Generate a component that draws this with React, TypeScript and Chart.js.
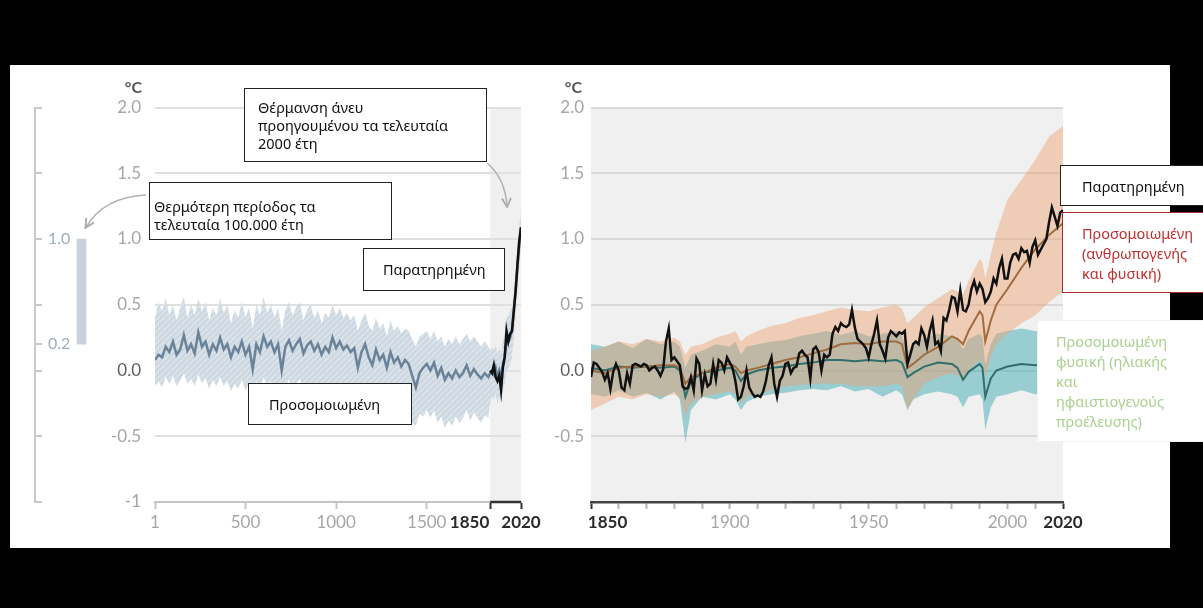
import React, { useEffect, useRef } from 'react';
import { Chart, registerables } from 'chart.js';

Chart.register(...registerables);

// ================= DATA =================
// Left panel – reconstructed / simulated temperature, year 1 .. 1840 every 20 years
const PALEO_STEP = 20;
const paleoMean = [
  0.08, 0.12, 0.10, 0.18, 0.14, 0.22, 0.12, 0.16, 0.27, 0.15,
  0.20, 0.13, 0.29, 0.18, 0.22, 0.12, 0.20, 0.15, 0.25, 0.16,
  0.20, 0.10, 0.18, 0.14, 0.22, 0.12, 0.18, 0.01, 0.20, 0.14,
  0.26, 0.18, 0.22, 0.14, 0.20, 0.00, 0.18, 0.23, 0.15, 0.20,
  0.24, 0.13, 0.19, 0.22, 0.15, 0.20, 0.12, 0.18, 0.14, 0.25,
  0.17, 0.22, 0.16, 0.19, 0.14, 0.17, 0.02, 0.14, 0.20, 0.10,
  0.04, 0.16, 0.08, 0.12, 0.02, 0.14, 0.06, 0.10, 0.03, 0.08,
  0.05, -0.04, -0.13, -0.02, 0.02, 0.05, 0.00, 0.06, -0.04, 0.02,
  -0.07, -0.02, -0.06, 0.00, -0.05, -0.02, 0.04, -0.04, 0.01, -0.03,
  -0.06, -0.02, -0.05,
];
const paleoUpper = [
  0.40, 0.52, 0.45, 0.55, 0.42, 0.50, 0.38, 0.48, 0.56, 0.40,
  0.50, 0.42, 0.55, 0.45, 0.52, 0.38, 0.48, 0.42, 0.55, 0.44,
  0.50, 0.36, 0.46, 0.40, 0.52, 0.40, 0.48, 0.32, 0.50, 0.42,
  0.56, 0.44, 0.50, 0.40, 0.48, 0.30, 0.46, 0.52, 0.42, 0.48,
  0.52, 0.38, 0.46, 0.50, 0.40, 0.46, 0.36, 0.44, 0.40, 0.50,
  0.42, 0.48, 0.40, 0.44, 0.38, 0.42, 0.30, 0.38, 0.44, 0.34,
  0.30, 0.40, 0.32, 0.36, 0.26, 0.38, 0.30, 0.34, 0.28, 0.32,
  0.30, 0.24, 0.18, 0.26, 0.28, 0.30, 0.24, 0.30, 0.22, 0.26,
  0.18, 0.24, 0.20, 0.26, 0.20, 0.24, 0.28, 0.22, 0.26, 0.22,
  0.18, 0.22, 0.18,
];
const paleoLower = [
  -0.12, -0.08, -0.13, -0.05, -0.10, -0.04, -0.12, -0.08, -0.02, -0.10,
  -0.06, -0.12, -0.03, -0.10, -0.06, -0.14, -0.07, -0.12, -0.05, -0.12,
  -0.08, -0.16, -0.10, -0.14, -0.07, -0.15, -0.10, -0.22, -0.08, -0.14,
  -0.05, -0.12, -0.08, -0.16, -0.10, -0.24, -0.12, -0.07, -0.15, -0.10,
  -0.06, -0.17, -0.12, -0.09, -0.16, -0.12, -0.20, -0.14, -0.18, -0.10,
  -0.16, -0.12, -0.18, -0.14, -0.20, -0.17, -0.30, -0.20, -0.15, -0.25,
  -0.30, -0.20, -0.28, -0.22, -0.33, -0.22, -0.30, -0.25, -0.32, -0.28,
  -0.30, -0.40, -0.42, -0.33, -0.35, -0.30, -0.36, -0.30, -0.40, -0.35,
  -0.44, -0.38, -0.42, -0.35, -0.40, -0.36, -0.30, -0.38, -0.32, -0.36,
  -0.40, -0.34, -0.36,
];

// Left panel – 1850..2020 continuation (every 10 years)
const recentYears = [1850, 1860, 1870, 1880, 1890, 1900, 1910, 1920, 1930, 1940, 1950, 1960, 1970, 1980, 1990, 2000, 2010, 2020];
const recentMean = [-0.02, 0.0, -0.03, 0.02, -0.06, 0.0, -0.05, 0.05, 0.1, 0.22, 0.22, 0.25, 0.3, 0.45, 0.6, 0.78, 0.95, 1.08];
const recentUpper = [0.15, 0.18, 0.15, 0.2, 0.12, 0.18, 0.12, 0.22, 0.28, 0.4, 0.42, 0.45, 0.48, 0.6, 0.75, 0.95, 1.1, 1.2];
const recentLower = [-0.25, -0.2, -0.22, -0.18, -0.25, -0.2, -0.25, -0.15, -0.1, 0.0, 0.02, 0.05, 0.1, 0.25, 0.4, 0.6, 0.8, 0.95];
const recentObserved = [0.0, -0.02, 0.04, -0.05, -0.08, -0.04, -0.15, 0.02, 0.1, 0.3, 0.22, 0.28, 0.3, 0.45, 0.6, 0.8, 0.98, 1.09];

// Observed annual temperature, 1850..2020
const OBS_START = 1850;
const observed = [
  -0.05, 0.06, 0.05, 0.02, -0.01, -0.07, -0.02, -0.14, -0.01, 0.05,
  0.00, -0.13, -0.15, -0.02, -0.10, 0.04, 0.05, 0.04, 0.03, 0.05,
  0.04, 0.00, 0.02, 0.03, 0.00, -0.04, 0.01, 0.22, 0.32, 0.08,
  0.10, 0.07, 0.04, -0.12, -0.14, -0.13, -0.05, -0.15, 0.09, 0.05,
  -0.15, -0.03, -0.12, -0.10, 0.05, -0.07, 0.08, 0.06, 0.00, 0.10,
  0.06, 0.02, -0.08, -0.22, -0.20, -0.12, 0.00, -0.13, -0.17, -0.20,
  -0.19, -0.20, -0.16, -0.08, 0.04, 0.10, -0.10, -0.20, -0.08, -0.04,
  0.05, 0.06, -0.02, 0.02, 0.03, 0.13, 0.15, 0.12, 0.10, -0.06,
  0.16, 0.18, 0.14, 0.00, 0.12, 0.10, 0.12, 0.28, 0.33, 0.30,
  0.36, 0.34, 0.33, 0.35, 0.46, 0.33, 0.24, 0.22, 0.20, 0.17,
  0.10, 0.20, 0.28, 0.38, 0.20, 0.15, 0.09, 0.25, 0.30, 0.28,
  0.26, 0.29, 0.28, 0.30, 0.05, 0.12, 0.20, 0.22, 0.20, 0.32,
  0.27, 0.18, 0.30, 0.38, 0.20, 0.22, 0.15, 0.40, 0.38, 0.46,
  0.56, 0.55, 0.45, 0.61, 0.46, 0.45, 0.50, 0.62, 0.68, 0.60,
  0.66, 0.62, 0.52, 0.55, 0.60, 0.70, 0.66, 0.78, 0.85, 0.70,
  0.70, 0.82, 0.88, 0.89, 0.85, 0.93, 0.90, 0.91, 0.82, 0.94,
  0.99, 0.88, 0.92, 0.96, 1.00, 1.13, 1.24, 1.17, 1.10, 1.20,
  1.22,
];

// Right panel – simulations
const simYears = [
  1850, 1855, 1860, 1865, 1870, 1875, 1880, 1882, 1884, 1886,
  1890, 1895, 1900, 1902, 1904, 1906, 1910, 1915, 1920, 1925,
  1930, 1935, 1940, 1945, 1950, 1955, 1960, 1962, 1964, 1966,
  1970, 1975, 1980, 1982, 1984, 1986, 1990, 1991, 1992, 1994,
  1996, 2000, 2005, 2010, 2015, 2020,
];
const simHumanNatural = [
  0.0, -0.02, 0.02, 0.03, 0.03, 0.04, 0.04, 0.02, -0.1, -0.05,
  -0.02, 0.02, 0.05, 0.03, -0.02, 0.0, 0.02, 0.05, 0.08, 0.1,
  0.13, 0.16, 0.2, 0.21, 0.2, 0.22, 0.22, 0.2, 0.02, 0.05,
  0.12, 0.18, 0.26, 0.24, 0.2, 0.3, 0.45, 0.42, 0.22, 0.38,
  0.5, 0.62, 0.78, 0.92, 1.03, 1.12,
];
const simHumanNaturalUpper = [
  0.15, 0.18, 0.22, 0.2, 0.24, 0.22, 0.25, 0.22, 0.12, 0.18,
  0.2, 0.25, 0.28, 0.3, 0.22, 0.26, 0.3, 0.34, 0.36, 0.4,
  0.42, 0.45, 0.48, 0.46, 0.45, 0.48, 0.5, 0.47, 0.36, 0.4,
  0.48, 0.55, 0.62, 0.6, 0.58, 0.68, 0.85, 0.82, 0.7, 0.88,
  1.05, 1.3, 1.45, 1.6, 1.78, 1.86,
];
const simHumanNaturalLower = [
  -0.3, -0.25, -0.2, -0.22, -0.18, -0.2, -0.18, -0.2, -0.35, -0.25,
  -0.2, -0.18, -0.16, -0.18, -0.25, -0.2, -0.18, -0.15, -0.12, -0.11,
  -0.1, -0.1, -0.1, -0.12, -0.12, -0.12, -0.1, -0.12, -0.3, -0.22,
  -0.1, -0.05, -0.02, -0.04, -0.08, 0.0, 0.08, 0.05, -0.05, 0.1,
  0.2, 0.28, 0.36, 0.42, 0.52, 0.6,
];
const simNatural = [
  0.02, 0.0, 0.03, 0.02, 0.03, 0.02, 0.03, 0.0, -0.2, -0.08,
  -0.02, 0.0, 0.02, 0.0, -0.08, -0.03, 0.0, 0.02, 0.03, 0.05,
  0.06, 0.08, 0.08, 0.07, 0.08, 0.07, 0.08, 0.06, -0.05, -0.02,
  0.03, 0.06, 0.05, 0.02, -0.07, -0.01, 0.05, 0.02, -0.2, -0.06,
  0.0, 0.03, 0.05, 0.04, 0.05, 0.04,
];
const simNaturalUpper = [
  0.2, 0.18, 0.22, 0.17, 0.24, 0.2, 0.22, 0.18, 0.02, 0.12,
  0.15, 0.2, 0.18, 0.22, 0.12, 0.18, 0.2, 0.22, 0.23, 0.26,
  0.28, 0.3, 0.27, 0.3, 0.26, 0.28, 0.3, 0.26, 0.14, 0.2,
  0.25, 0.28, 0.26, 0.24, 0.16, 0.24, 0.28, 0.25, 0.05, 0.2,
  0.28, 0.3, 0.32, 0.3, 0.3, 0.28,
];
const simNaturalLower = [
  -0.18, -0.2, -0.15, -0.2, -0.17, -0.22, -0.16, -0.22, -0.55, -0.3,
  -0.2, -0.22, -0.18, -0.22, -0.3, -0.24, -0.2, -0.18, -0.17, -0.15,
  -0.14, -0.15, -0.12, -0.16, -0.14, -0.2, -0.15, -0.18, -0.3, -0.22,
  -0.18, -0.16, -0.18, -0.2, -0.28, -0.2, -0.18, -0.22, -0.45, -0.28,
  -0.2, -0.18, -0.15, -0.18, -0.16, -0.18,
];

// Inset: warmest multi-century period in last 100,000 years
const insetRange = [0.2, 1.0];

// Ticks
const yTickValues = [-1, -0.5, 0, 0.5, 1, 1.5, 2];
const leftYTickLabels = ['-1', '-0.5', '0.0', '0.5', '1.0', '1.5', '2.0'];
const rightYTickLabels = ['', '-0.5', '0.0', '0.5', '1.0', '1.5', '2.0'];
const leftXTickValues = [1, 500, 1000, 1500, 1850, 2020];
const leftXTickLabels = ['1', '500', '1000', '1500', '1850', '2020'];
const rightXTickValues = [1850, 1860, 1870, 1880, 1890, 1900, 1910, 1920, 1930, 1940, 1950, 1960, 1970, 1980, 1990, 2000, 2010, 2020];
const rightXLabeledYears = [1850, 1900, 1950, 2000, 2020];
const highlightYears = [1850, 2020];
const insetTickValues = [-1, -0.5, 0, 0.2, 0.5, 1, 1.5, 2];
const insetTickLabels = ['', '', '', '0.2', '', '1.0', '', ''];

// ================= STYLE =================
const TICK_FAMILY = 'Lato, "Open Sans", sans-serif';
const BOX_FAMILY = '"Noto Sans", "Open Sans", sans-serif';
const Y_MIN = -1;
const Y_MAX = 2;

const toPts = (xs: number[], ys: number[]) => xs.map((x, i) => ({ x, y: ys[i] }));
const paleoYears = paleoMean.map((_, i) => (i === 0 ? 1 : i * PALEO_STEP));
const obsYears = observed.map((_, i) => OBS_START + i);

function makeHatch(): any {
  const c = document.createElement('canvas');
  c.width = 6;
  c.height = 6;
  const g = c.getContext('2d')!;
  g.fillStyle = 'rgb(216,224,232)';
  g.fillRect(0, 0, 6, 6);
  g.strokeStyle = 'rgb(196,208,220)';
  g.lineWidth = 1.1;
  g.beginPath();
  g.moveTo(0, 6); g.lineTo(6, 0);
  g.moveTo(-3, 3); g.lineTo(3, -3);
  g.moveTo(3, 9); g.lineTo(9, 3);
  g.stroke();
  return g.createPattern(c, 'repeat');
}

const shadePlugin = {
  id: 'shade',
  beforeDraw(chart: any, _a: any, opts: any) {
    if (!opts || opts.color == null) return;
    const { ctx, chartArea, scales } = chart;
    const x0 = scales.x.getPixelForValue(opts.from);
    const x1 = scales.x.getPixelForValue(opts.to);
    ctx.save();
    ctx.fillStyle = opts.color;
    ctx.fillRect(x0, chartArea.top, x1 - x0, chartArea.bottom - chartArea.top);
    ctx.restore();
  },
};

const bracketPlugin = {
  id: 'bracket',
  afterDraw(chart: any, _a: any, opts: any) {
    if (!opts || opts.color == null) return;
    const { ctx, chartArea, scales } = chart;
    ctx.save();
    ctx.strokeStyle = opts.color;
    ctx.lineWidth = opts.width;
    ctx.beginPath();
    ctx.moveTo(scales.x.getPixelForValue(opts.from), chartArea.bottom);
    ctx.lineTo(scales.x.getPixelForValue(opts.to), chartArea.bottom);
    ctx.stroke();
    ctx.restore();
  },
};

const yLabelColor = (ctx: any) => (ctx.tick && ctx.tick.value === 0 ? '#5e5e5e' : '#a6a6a6');
const xLabelFont = (ctx: any) => ({
  family: TICK_FAMILY,
  size: 17,
  weight: ctx.tick && highlightYears.includes(ctx.tick.value) ? 'bold' : 'normal',
});
const xLabelColor = (ctx: any) => (ctx.tick && highlightYears.includes(ctx.tick.value) ? '#2b2b2b' : '#a6a6a6');

function buildLeft(): any {
  const bandX = [...paleoYears, ...recentYears];
  return {
    type: 'line',
    data: {
      datasets: [
        { data: toPts(bandX, [...paleoLower, ...recentLower]), borderWidth: 0, pointRadius: 0, fill: false, order: 4 },
        { data: toPts(bandX, [...paleoUpper, ...recentUpper]), borderWidth: 0, pointRadius: 0, fill: '-1', backgroundColor: makeHatch(), order: 3 },
        { data: toPts(bandX, [...paleoMean, ...recentMean]), borderColor: '#6b8399', borderWidth: 2.5, pointRadius: 0, fill: false, order: 2 },
        { data: toPts(recentYears, recentObserved), borderColor: '#111', borderWidth: 2.5, pointRadius: 0, fill: false, order: 1 },
      ],
    },
    options: {
      animation: false,
      responsive: false,
      events: [],
      layout: { padding: { top: 42.5, right: 39, left: 0, bottom: 0 } },
      plugins: {
        legend: { display: false },
        tooltip: { enabled: false },
        shade: { from: 1850, to: 2020, color: '#f0f0f0' },
        bracket: { from: 1850, to: 2020, color: '#333', width: 2.5 },
      },
      scales: {
        x: {
          type: 'linear',
          min: 1,
          max: 2020,
          afterBuildTicks: (s: any) => { s.ticks = leftXTickValues.map((v) => ({ value: v })); },
          afterFit: (s: any) => { s.height = 46; },
          ticks: {
            autoSkip: false,
            maxRotation: 0,
            padding: 3,
            font: xLabelFont,
            color: xLabelColor,
            callback: (v: number) => {
              const lbl = leftXTickLabels[leftXTickValues.indexOf(v)] ?? '';
              return v === 1850 ? lbl + '          ' : lbl;
            },
          },
          grid: {
            drawOnChartArea: false,
            drawTicks: true,
            tickLength: 7,
            tickWidth: 2,
            tickColor: (ctx: any) => (ctx.tick && highlightYears.includes(ctx.tick.value) ? '#333' : '#c4c4c4'),
          },
          border: { color: '#c4c4c4', width: 2 },
        },
        y: {
          min: Y_MIN,
          max: Y_MAX,
          afterBuildTicks: (s: any) => { s.ticks = yTickValues.map((v) => ({ value: v })); },
          afterFit: (s: any) => { s.width = 95; },
          ticks: {
            padding: 14,
            font: { family: TICK_FAMILY, size: 17 },
            color: yLabelColor,
            callback: (v: number) => leftYTickLabels[yTickValues.indexOf(v)] ?? '',
          },
          grid: { color: '#e0e0e0', lineWidth: 2, drawTicks: false },
          border: { display: false },
        },
      },
    },
    plugins: [shadePlugin, bracketPlugin],
  };
}

function buildRight(): any {
  return {
    type: 'line',
    data: {
      datasets: [
        { data: toPts(simYears, simNaturalLower), borderWidth: 0, pointRadius: 0, fill: false, order: 6 },
        { data: toPts(simYears, simNaturalUpper), borderWidth: 0, pointRadius: 0, fill: '-1', backgroundColor: 'rgba(64,170,180,0.5)', order: 5 },
        { data: toPts(simYears, simHumanNaturalLower), borderWidth: 0, pointRadius: 0, fill: false, order: 4 },
        { data: toPts(simYears, simHumanNaturalUpper), borderWidth: 0, pointRadius: 0, fill: '-1', backgroundColor: 'rgba(238,160,110,0.45)', order: 3 },
        { data: toPts(simYears, simNatural), borderColor: '#2f6f6c', borderWidth: 2, pointRadius: 0, fill: false, order: 2 },
        { data: toPts(simYears, simHumanNatural), borderColor: '#a06d3e', borderWidth: 2, pointRadius: 0, fill: false, order: 1 },
        { data: toPts(obsYears, observed), borderColor: '#111', borderWidth: 2.5, pointRadius: 0, fill: false, order: 0 },
      ],
    },
    options: {
      animation: false,
      responsive: false,
      events: [],
      layout: { padding: { top: 42.5, right: 47, left: 0, bottom: 0 } },
      plugins: {
        legend: { display: false },
        tooltip: { enabled: false },
        shade: { from: 1850, to: 2020, color: '#f0f0f0' },
      },
      scales: {
        x: {
          type: 'linear',
          min: 1850,
          max: 2020,
          afterBuildTicks: (s: any) => { s.ticks = rightXTickValues.map((v) => ({ value: v })); },
          afterFit: (s: any) => { s.height = 46; },
          ticks: {
            autoSkip: false,
            maxRotation: 0,
            padding: 3,
            font: xLabelFont,
            color: xLabelColor,
            callback: (v: number) => {
              if (!rightXLabeledYears.includes(v)) return '';
              return v === 1850 ? '        ' + String(v) : String(v);
            },
          },
          grid: {
            drawOnChartArea: false,
            drawTicks: true,
            tickLength: 7,
            tickWidth: 2,
            tickColor: (ctx: any) => (ctx.tick && highlightYears.includes(ctx.tick.value) ? '#333' : '#b5b5b5'),
          },
          border: { color: '#444', width: 2.5 },
        },
        y: {
          min: Y_MIN,
          max: Y_MAX,
          afterBuildTicks: (s: any) => { s.ticks = yTickValues.map((v) => ({ value: v })); },
          afterFit: (s: any) => { s.width = 61; },
          ticks: {
            padding: 7,
            font: { family: TICK_FAMILY, size: 17 },
            color: yLabelColor,
            callback: (v: number) => rightYTickLabels[yTickValues.indexOf(v)] ?? '',
          },
          grid: { color: '#d9d9d9', lineWidth: 2, drawTicks: false },
          border: { display: false },
        },
      },
    },
    plugins: [shadePlugin],
  };
}

function buildInset(): any {
  return {
    type: 'bar',
    data: {
      labels: ['range'],
      datasets: [{ data: [insetRange], backgroundColor: '#c9d3dd', borderWidth: 0, barThickness: 9 }],
    },
    options: {
      animation: false,
      responsive: false,
      events: [],
      layout: { padding: { top: 42.5, right: 2, left: 0, bottom: 46 } },
      plugins: { legend: { display: false }, tooltip: { enabled: false } },
      scales: {
        x: { display: false },
        y: {
          min: Y_MIN,
          max: Y_MAX,
          afterBuildTicks: (s: any) => { s.ticks = insetTickValues.map((v) => ({ value: v })); },
          afterFit: (s: any) => { s.width = 25; },
          ticks: {
            mirror: true,
            padding: 13,
            font: { family: TICK_FAMILY, size: 16 },
            color: '#9fadbb',
            callback: (v: number) => insetTickLabels[insetTickValues.indexOf(v)] ?? '',
          },
          grid: { drawOnChartArea: false, drawTicks: true, tickLength: -7, color: '#c9c9c9', lineWidth: 2 },
          border: { display: true, color: '#c9c9c9', width: 2 },
        },
      },
    },
  };
}

function ChartCanvas({ left, top, width, height, build }: { left: number; top: number; width: number; height: number; build: () => any }) {
  const ref = useRef<HTMLCanvasElement>(null);
  useEffect(() => {
    const chart = new Chart(ref.current as HTMLCanvasElement, build());
    return () => chart.destroy();
  }, [build]);
  return (
    <canvas
      ref={ref}
      width={width}
      height={height}
      style={{ position: 'absolute', left, top, width, height }}
    />
  );
}

const boxBase: React.CSSProperties = {
  position: 'absolute',
  background: '#fff',
  border: '1.5px solid #222',
  boxSizing: 'border-box',
  fontFamily: BOX_FAMILY,
  fontSize: 14.5,
  color: '#111',
  lineHeight: '18px',
  whiteSpace: 'nowrap',
  overflow: 'hidden',
};

export default function App() {
  return (
    <div style={{ position: 'fixed', left: 0, top: 0, width: 1203, height: 608, background: '#000', overflow: 'hidden' }}>
      <div style={{ position: 'absolute', left: 10, top: 65, width: 1160, height: 483, background: '#fff' }} />

      <ChartCanvas left={10} top={65} width={120} height={483} build={buildInset} />
      <ChartCanvas left={60} top={65} width={500} height={483} build={buildLeft} />
      <ChartCanvas left={530} top={65} width={580} height={483} build={buildRight} />

      <div style={{ position: 'absolute', left: 100, top: 77, width: 42, textAlign: 'right', fontFamily: TICK_FAMILY, fontWeight: 'bold', fontSize: 16, color: '#555', lineHeight: '20px' }}>°C</div>
      <div style={{ position: 'absolute', left: 540, top: 77, width: 42, textAlign: 'right', fontFamily: TICK_FAMILY, fontWeight: 'bold', fontSize: 16, color: '#555', lineHeight: '20px' }}>°C</div>

      <svg width={1203} height={608} style={{ position: 'absolute', left: 0, top: 0, pointerEvents: 'none' }}>
        <defs>
          <marker id="ah" viewBox="0 0 10 10" refX="8" refY="5" markerWidth="7" markerHeight="7" orient="auto">
            <path d="M1,1 L9,5 L1,9" fill="none" stroke="#aaaaaa" strokeWidth="1.6" />
          </marker>
        </defs>
        <path d="M146,195 Q104,197 86,227" stroke="#b3b3b3" strokeWidth="1.6" fill="none" markerEnd="url(#ah)" />
        <path d="M487,163 Q505,178 507,206" stroke="#b3b3b3" strokeWidth="1.6" fill="none" markerEnd="url(#ah)" />
      </svg>

      <div style={{ ...boxBase, left: 244, top: 88, width: 243, height: 74, padding: '9px 0 0 13px' }}>
        Θέρμανση άνευ<br />προηγουμένου τα τελευταία<br />2000 έτη
      </div>
      <div style={{ ...boxBase, left: 149, top: 182, width: 243, height: 58, padding: '14px 0 0 4px' }}>
        Θερμότερη περίοδος τα<br />τελευταία 100.000 έτη
      </div>
      <div style={{ ...boxBase, left: 363, top: 248, width: 142, height: 43, padding: '11px 0 0 19px' }}>
        Παρατηρημένη
      </div>
      <div style={{ ...boxBase, left: 248, top: 383, width: 164, height: 42, padding: '11px 0 0 20px' }}>
        Προσομοιωμένη
      </div>

      <div style={{ ...boxBase, left: 1060, top: 165, width: 160, height: 41, padding: '11px 0 0 21px' }}>
        Παρατηρημένη
      </div>
      <div style={{ ...boxBase, left: 1062, top: 212, width: 160, height: 81, padding: '10px 0 0 19px', border: '1.5px solid #b0282a', color: '#c0302e', lineHeight: '20px' }}>
        Προσομοιωμένη<br />(ανθρωπογενής<br />και φυσική)
      </div>
      <div style={{ ...boxBase, left: 1037, top: 320, width: 170, height: 122, padding: '10px 0 0 18px', border: '1px solid #f2f2f2', color: '#a9d18e', lineHeight: '20px' }}>
        Προσομοιωμένη<br />φυσική (ηλιακής<br />και<br />ηφαιστιογενούς<br />προέλευσης)
      </div>
    </div>
  );
}
